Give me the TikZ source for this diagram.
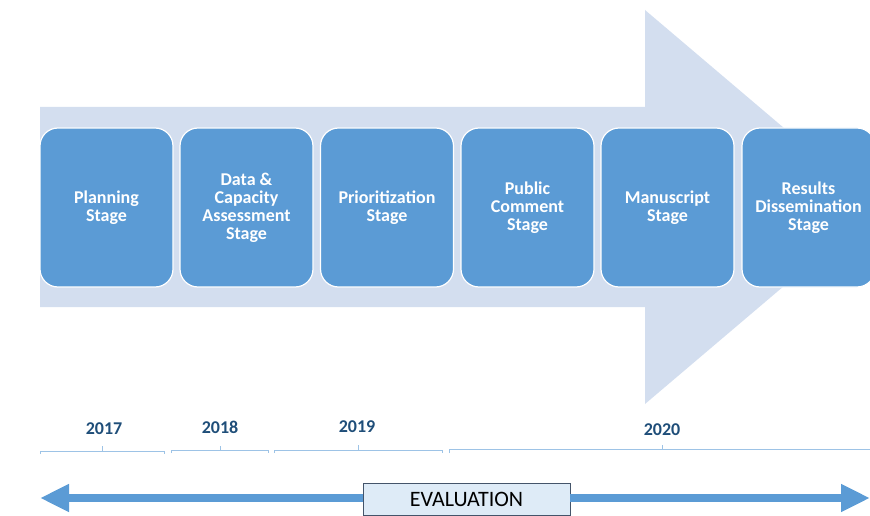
\documentclass[tikz,border=0pt]{standalone}
\usepackage{fontspec}
\setmainfont{Carlito}
\usetikzlibrary{arrows.meta}
\definecolor{stagefill}{RGB}{91,155,213}
\definecolor{bandfill}{RGB}{211,222,239}
\definecolor{yearcol}{RGB}{31,78,121}
\definecolor{bracecol}{RGB}{157,195,230}
\definecolor{evalfill}{RGB}{222,235,247}
\definecolor{evalline}{RGB}{68,84,106}
\tikzstyle{stage}=[rectangle, rounded corners=18pt, draw=white, line width=1.2pt, fill=stagefill, text=white, font=\bfseries\fontsize{18}{18}\selectfont, minimum width=133pt, minimum height=159pt, align=center]
\tikzstyle{year}=[text=yearcol, font=\bfseries\fontsize{18}{18}\selectfont]
\tikzstyle{span}=[draw=bracecol, line width=0.9pt]
\tikzstyle{evalbox}=[rectangle, draw=evalline, line width=0.9pt, fill=evalfill, minimum width=207pt, minimum height=32pt, font=\fontsize{22}{22}\selectfont]
\tikzstyle{evalarrow}=[draw=stagefill, line width=8pt, -{Triangle[length=29pt,width=26pt]}]

\begin{document}
\begin{tikzpicture}[x=1pt, y=-1pt]
                    \useasboundingbox (0,0) rectangle (870,516);
                    \clip (0,0) rectangle (870,516);
                    \fill[bandfill] (40,107) -- (645,107) -- (645,10) -- (877,207)
                          -- (645,404) -- (645,307) -- (40,307) -- cycle;
                    \node[stage] (s1) at (106.5, 207.5) {Planning\\Stage};
                    \node[stage] (s2) at (246.5, 207.5) {Data \&\\Capacity\\Assessment\\Stage};
                    \node[stage] (s3) at (387,   207.5) {Prioritization\\Stage};
                    \node[stage] (s4) at (527.5, 207.5) {Public\\Comment\\Stage};
                    \node[stage] (s5) at (667.5, 207.5) {Manuscript\\Stage};
                    \node[stage] (s6) at (808.5, 207.5) {Results\\Dissemination\\Stage};
                    \node[year] (y1) at (104, 429) {2017};
                    \node[year] (y2) at (220, 427) {2018};
                    \node[year] (y3) at (357, 427) {2019};
                    \node[year] (y4) at (662, 430) {2020};
                    \draw[span] (40,454) -- (40,451) -- (164,451) -- (164,454);
                    \draw[span] (102,451) -- (102,446);
                    \draw[span] (171,453) -- (171,450) -- (268,450) -- (268,453);
                    \draw[span] (220,450) -- (220,446);
                    \draw[span] (274,453) -- (274,450) -- (442,450) -- (442,453);
                    \draw[span] (358,450) -- (358,445);
                    \draw[span] (449,453) -- (449,449.5) -- (875,449.5);
                    \draw[span] (662,449.5) -- (662,445);
                    \coordinate (e1) at (40, 498);
                    \coordinate (e2) at (870, 498);
                    \node[evalbox] (ev) at (466.5, 499) {EVALUATION};
                    \draw[evalarrow] (ev.west |- e1) -- (e1);
                    \draw[evalarrow] (ev.east |- e2) -- (e2);
                \end{tikzpicture}
\end{document}
